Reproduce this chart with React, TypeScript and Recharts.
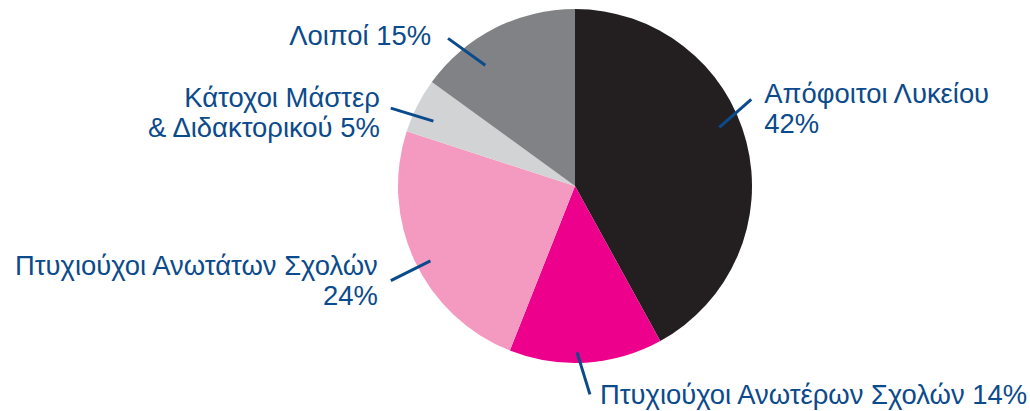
import React from 'react';
import { PieChart, Pie, Cell } from 'recharts';

const categories = [
  'Απόφοιτοι Λυκείου',
  'Πτυχιούχοι Ανωτέρων Σχολών',
  'Πτυχιούχοι Ανωτάτων Σχολών',
  'Κάτοχοι Μάστερ & Διδακτορικού',
  'Λοιποί',
];
const shares = [42, 14, 24, 5, 15];
const labelLines = [
  ['Απόφοιτοι Λυκείου', '42%'],
  ['Πτυχιούχοι Ανωτέρων Σχολών 14%'],
  ['Πτυχιούχοι Ανωτάτων Σχολών', '24%'],
  ['Κάτοχοι Μάστερ', '& Διδακτορικού 5%'],
  ['Λοιποί 15%'],
];

const colors = ['#231f20', '#ec008c', '#f49ac1', '#d1d3d4', '#808285'];
const blue = '#0b4a8b';

// leader line placement: angle offsets (deg, clockwise) from slice middle, radius factors, text offset from line end
const leaders = [
  { a0: -7.7, r0: 0.88, a1: -11.8, r1: 1.11, dx: 13, dy: 4, anchor: 'start' },
  { a0: 2.9, r0: 0.94, a1: -0.5, r1: 1.18, dx: 10, dy: 10, anchor: 'start' },
  { a0: -2.2, r0: 0.92, a1: -2, r1: 1.17, dx: -13, dy: -6, anchor: 'end' },
  { a0: -2.4, r0: 0.88, a1: -4.1, r1: 1.13, dx: -11, dy: -1, anchor: 'end' },
  { a0: -9.6, r0: 0.85, a1: -13.7, r1: 1.1, dx: -17, dy: 7, anchor: 'end' },
];

const data = categories.map((name, i) => ({ name, value: shares[i] }));

const RAD = Math.PI / 180;

function renderLabel(props: any) {
  const { cx, cy, midAngle, outerRadius, index } = props;
  const l = leaders[index];
  // recharts angle is counter-clockwise, offsets are clockwise
  const p = (da: number, rf: number) => {
    const ang = (midAngle - da) * RAD;
    return [cx + outerRadius * rf * Math.cos(-ang), cy + outerRadius * rf * Math.sin(-ang)];
  };
  const [x0, y0] = p(l.a0, l.r0);
  const [x1, y1] = p(l.a1, l.r1);
  const tx = x1 + l.dx;
  const ty = y1 + l.dy;
  return (
    <g key={`lbl-${index}`}>
      <line x1={x0} y1={y0} x2={x1} y2={y1} stroke={blue} strokeWidth={3} />
      <text x={tx} y={ty} textAnchor={l.anchor} fill={blue} fontSize={27.4} fontFamily="Liberation Sans, Arial, sans-serif">
        {labelLines[index].map((t, j) => (
          <tspan key={j} x={tx} dy={j === 0 ? 0 : 30}>
            {t}
          </tspan>
        ))}
      </text>
    </g>
  );
}

export default function App() {
  return (
    <div style={{ position: 'absolute', left: 0, top: 0, width: 1030, height: 411, background: '#fff' }}>
      <PieChart width={1030} height={411} margin={{ top: 0, right: 0, bottom: 0, left: 0 }}>
        <Pie
          data={data}
          dataKey="value"
          nameKey="name"
          cx={575}
          cy={186}
          outerRadius={177}
          startAngle={90}
          endAngle={-270}
          stroke="none"
          label={renderLabel}
          labelLine={false}
          isAnimationActive={false}
        >
          {data.map((d, i) => (
            <Cell key={d.name} fill={colors[i]} />
          ))}
        </Pie>
      </PieChart>
    </div>
  );
}
